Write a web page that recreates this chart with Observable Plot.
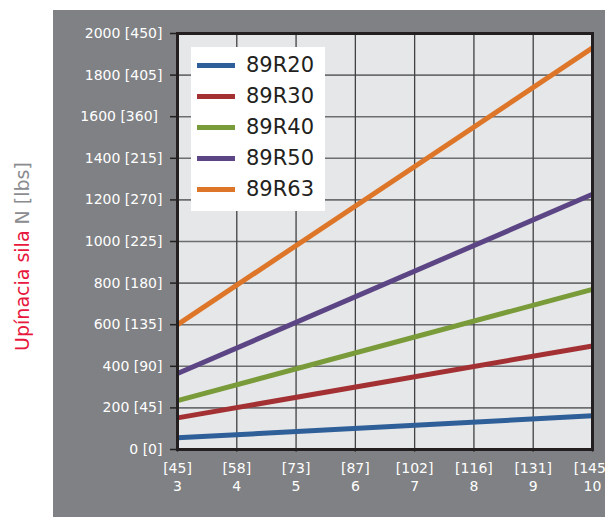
<!DOCTYPE html>
<html>
<head>
<meta charset="utf-8">
<script src="https://cdn.jsdelivr.net/npm/d3@7"></script>
<script src="https://cdn.jsdelivr.net/npm/@observablehq/plot@0.6"></script>
<style>
  body { margin: 0; background: #fff; font-family: "DejaVu Sans", sans-serif; }
  #wrap { position: relative; width: 605px; height: 517px; overflow: hidden; }
  #panel { position: absolute; left: 53px; top: 10px; right: 0; bottom: 0; background: #808184; }
  #chart { position: absolute; left: 0; top: 0; }
  #legend { position: absolute; left: 191px; top: 47px; width: 134px; height: 164px; background: #fff; }
  .lrow { position: absolute; left: 0; height: 24px; width: 134px; }
  .lsw { position: absolute; left: 6px; top: 10px; width: 38px; height: 5px; }
  .ltx { position: absolute; left: 55px; top: 0; font-size: 21px; line-height: 24px; color: #231f20; }
</style>
</head>
<body>
<div id="wrap">
  <div id="panel"></div>
  <div id="chart"></div>
  <div id="legend"></div>
</div>
<script>
// ---- data ----
const pressureBar = [3, 4, 5, 6, 7, 8, 9, 10];
const pressureLbsLabels = ["[45]", "[58]", "[73]", "[87]", "[102]", "[116]", "[131]", "[145]"];
const yTicks = [0, 200, 400, 600, 800, 1000, 1200, 1400, 1600, 1800, 2000];
const yTickLabels = ["0 [0]", "200 [45]", "400 [90]", "600 [135]", "800 [180]", "1000 [225]",
                     "1200 [270]", "1400 [215]", "1600 [360]\u00a0", "1800 [405]", "2000 [450]"];
const seriesNames = ["89R20", "89R30", "89R40", "89R50", "89R63"];
const seriesColors = ["#2f5f98", "#a33134", "#7a9b3a", "#5c4585", "#de762a"];
const startBar = 3;
const endBar = 10;
const forceAtStart = [56, 152, 235, 365, 600];
const forceAtEnd = [162, 498, 770, 1227, 1931];

const rows = seriesNames.flatMap((s, i) => [
  {series: s, bar: startBar, force: forceAtStart[i]},
  {series: s, bar: endBar, force: forceAtEnd[i]}
]);

const chart = Plot.plot({
  width: 605,
  height: 517,
  marginLeft: 177,
  marginRight: 13,
  marginTop: 33,
  marginBottom: 68,
  style: {background: "transparent", fontFamily: "DejaVu Sans", fontSize: "14px", overflow: "visible"},
  x: {domain: [3, 10], label: null},
  y: {domain: [0, 2000], label: null},
  color: {domain: seriesNames, range: seriesColors},
  marks: [
    Plot.frame({fill: "#e6e7e8"}),
    Plot.gridY(yTicks, {stroke: "#6d6e71", strokeOpacity: 1, strokeWidth: 1.6}),
    Plot.gridX(pressureBar, {stroke: "#414042", strokeOpacity: 1, strokeWidth: 1.3}),
    Plot.line(rows, {x: "bar", y: "force", z: "series", stroke: "series", strokeWidth: 5, strokeLinecap: "butt"}),
    Plot.axisY(yTicks, {
      tickSize: 7, tickPadding: 8, stroke: "#231f20", strokeWidth: 1.5, fill: "#ffffff",
      fontSize: 14, label: null,
      tickFormat: d => yTickLabels[yTicks.indexOf(d)]
    }),
    Plot.axisX(pressureBar, {
      tickSize: 3, tickPadding: 8, stroke: "#414042", strokeWidth: 1.3, fill: "#ffffff",
      fontSize: 14, lineHeight: 1.29, label: null,
      tickFormat: d => pressureLbsLabels[pressureBar.indexOf(d)] + "\n" + d
    }),
    Plot.frame({stroke: "#231f20", strokeWidth: 3})
  ]
});
document.getElementById("chart").appendChild(chart);

// rotated two-colour axis title
const t = d3.select(chart).append("text")
  .attr("transform", "translate(29,256.5) rotate(-90)")
  .attr("text-anchor", "middle")
  .style("font-family", "DejaVu Sans")
  .style("font-size", "19px");
t.append("tspan").attr("fill", "#e8173d").text("Upínacia sila ");
t.append("tspan").attr("fill", "#8a8c8f").text("N [lbs]");

// legend
const legend = d3.select("#legend");
const rowTops = [5, 36, 67, 98, 129];
seriesNames.forEach((s, i) => {
  const r = legend.append("div").attr("class", "lrow").style("top", (rowTops[i] + 0.5) + "px");
  r.append("div").attr("class", "lsw").style("background", seriesColors[i]);
  r.append("div").attr("class", "ltx").text(s);
});
</script>
</body>
</html>
